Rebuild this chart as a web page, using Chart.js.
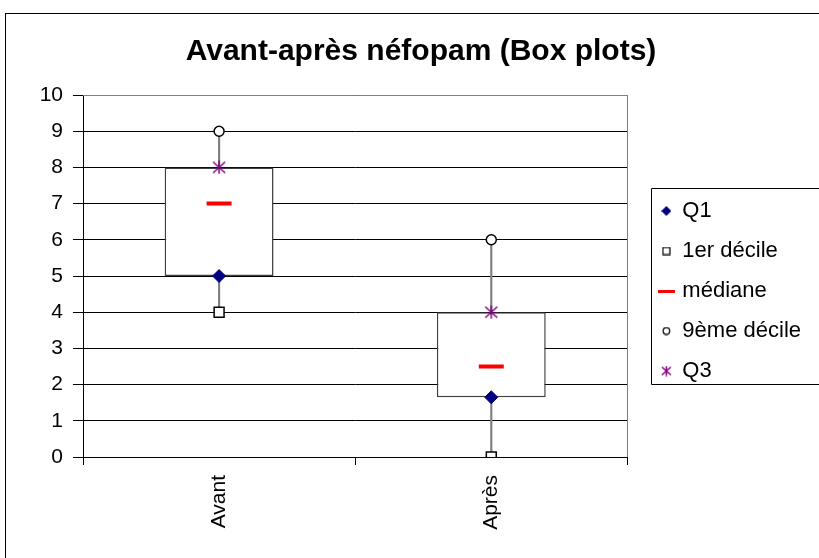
<!DOCTYPE html>
<html lang="fr">
<head>
<meta charset="UTF-8">
<title>Avant-après néfopam (Box plots)</title>
<script src="https://cdn.jsdelivr.net/npm/chart.js"></script>
<style>
  html, body { margin: 0; padding: 0; background: #fff; }
  #wrap { position: relative; width: 819px; height: 558px; }
</style>
</head>
<body>
<div id="wrap"><canvas id="myChart"></canvas></div>
<script>
// data
const categories = ['Avant', 'Après'];
const q1 = [5, 1.65];
const decile1 = [4, 0];
const mediane = [7, 2.5];
const decile9 = [9, 6];
const q3 = [8, 4];
const seriesNames = ['Q1', '1er décile', 'médiane', '9ème décile', 'Q3'];
const yMin = 0, yMax = 10, yStep = 1;

const PAD_L = 23;

Chart.defaults.font.family = "'Liberation Sans', Arial, sans-serif";
Chart.defaults.color = '#000';

function makeCanvas(w, h, draw) {
    const c = document.createElement('canvas');
    c.width = w; c.height = h;
    draw(c.getContext('2d'));
    return c;
}

function drawStar(g, s) {
    g.strokeStyle = '#800080';
    g.lineWidth = 1.5;
    g.beginPath();
    g.moveTo(s / 2, 0.5); g.lineTo(s / 2, s - 0.5);
    g.moveTo(1, 1.5); g.lineTo(s - 1, s - 1.5);
    g.moveTo(s - 1, 1.5); g.lineTo(1, s - 1.5);
    g.stroke();
}

const starImg = makeCanvas(14, 14, g => drawStar(g, 14));

// small markers for the legend
const legendImgs = [
    makeCanvas(10, 10, g => {
        g.fillStyle = '#000080';
        g.beginPath(); g.moveTo(5, 0); g.lineTo(10, 5); g.lineTo(5, 10); g.lineTo(0, 5); g.closePath(); g.fill();
    }),
    makeCanvas(9, 9, g => { g.strokeStyle = '#000'; g.lineWidth = 1.2; g.strokeRect(1, 1, 7, 7); }),
    makeCanvas(17, 3, g => { g.fillStyle = '#ff0000'; g.fillRect(0, 0, 17, 3); }),
    makeCanvas(9, 9, g => { g.strokeStyle = '#000'; g.lineWidth = 1.2; g.beginPath(); g.arc(4.5, 4.5, 3.3, 0, Math.PI * 2); g.stroke(); }),
    makeCanvas(11, 11, g => drawStar(g, 11))
];

function points(i, data, style) {
    return Object.assign({
        type: 'line',
        label: seriesNames[i],
        data: data,
        showLine: false,
        order: i
    }, style);
}

const frame = {
    id: 'frame',
    beforeDraw(chart) {
        const ctx = chart.ctx;
        ctx.save();
        ctx.fillStyle = '#fff';
        ctx.fillRect(0, 0, chart.width, chart.height);
        ctx.strokeStyle = '#000';
        ctx.lineWidth = 1;
        ctx.strokeRect(5.5, 13.5, chart.width + 20, chart.height + 20);
        ctx.restore();
    },
    beforeDatasetsDraw(chart) {
        const a = chart.chartArea, ctx = chart.ctx;
        ctx.save();
        ctx.strokeStyle = '#808080';
        ctx.lineWidth = 1;
        ctx.beginPath();
        ctx.moveTo(a.left, Math.round(a.top) + 0.5);
        ctx.lineTo(Math.round(a.right) + 0.5, Math.round(a.top) + 0.5);
        ctx.lineTo(Math.round(a.right) + 0.5, a.bottom);
        ctx.stroke();
        ctx.restore();
    },
    afterDraw(chart) {
        const lg = chart.legend;
        if (!lg || !lg.legendHitBoxes || !lg.legendHitBoxes.length) return;
        const hb = lg.legendHitBoxes;
        const first = hb[0], last = hb[hb.length - 1];
        const ctx = chart.ctx;
        ctx.save();
        ctx.strokeStyle = '#000';
        ctx.lineWidth = 1;
        const left = Math.round(first.left - 10) + 0.5;
        const top = Math.round(first.top + first.height / 2 - 23) + 0.5;
        const bottom = Math.round(last.top + last.height / 2 + 13) + 0.5;
        ctx.beginPath();
        ctx.moveTo(chart.width + 5, top);
        ctx.lineTo(left, top);
        ctx.lineTo(left, bottom);
        ctx.lineTo(chart.width + 5, bottom);
        ctx.stroke();
        ctx.restore();
    }
};

new Chart(document.getElementById('myChart'), {
    type: 'bar',
    data: {
        labels: categories,
        datasets: [
            points(0, q1, { pointStyle: 'rectRot', pointRadius: 6.5, pointHoverRadius: 6.5,
                backgroundColor: '#000080', borderColor: '#000080', pointBorderWidth: 1 }),
            points(1, decile1, { pointStyle: 'rect', pointRadius: 7, pointHoverRadius: 7,
                backgroundColor: '#fff', borderColor: '#000', pointBorderWidth: 1.5 }),
            points(2, mediane, { pointStyle: 'line', pointRadius: 12.5, pointHoverRadius: 12.5,
                backgroundColor: '#ff0000', borderColor: '#ff0000', pointBorderWidth: 4 }),
            points(3, decile9, { pointStyle: 'circle', pointRadius: 5, pointHoverRadius: 5,
                backgroundColor: '#fff', borderColor: '#000', pointBorderWidth: 1.5 }),
            points(4, q3, { pointStyle: starImg, backgroundColor: '#800080', borderColor: '#800080' }),
            {
                type: 'bar',
                label: 'box',
                data: categories.map((c, i) => [q1[i], q3[i]]),
                backgroundColor: '#fff',
                borderColor: '#404040',
                borderWidth: 1.5,
                borderSkipped: false,
                grouped: false,
                barPercentage: 0.4,
                categoryPercentage: 1,
                order: 5
            },
            {
                type: 'bar',
                label: 'whisker',
                data: categories.map((c, i) => [decile1[i], decile9[i]]),
                backgroundColor: '#808080',
                barThickness: 1.5,
                grouped: false,
                order: 6
            }
        ]
    },
    options: {
        responsive: true,
        maintainAspectRatio: false,
        animation: false,
        layout: { padding: { left: PAD_L, right: 0, top: 24, bottom: 0 } },
        plugins: {
            title: {
                display: true,
                text: 'Avant-après néfopam (Box plots)',
                color: '#000',
                font: { size: 30, weight: 'bold' },
                padding: { top: 10, bottom: 25 }
            },
            legend: {
                position: 'right',
                maxWidth: 190,
                labels: {
                    usePointStyle: true,
                    boxWidth: 10,
                    boxHeight: 10,
                    padding: 18,
                    color: '#000',
                    font: { size: 22 },
                    filter: item => item.datasetIndex < 5,
                    generateLabels: chart => Chart.defaults.plugins.legend.labels.generateLabels(chart)
                        .map(item => Object.assign(item, { pointStyle: legendImgs[item.datasetIndex] || item.pointStyle }))
                }
            },
            tooltip: { enabled: false }
        },
        scales: {
            x: {
                grid: { offset: true, drawOnChartArea: false, tickLength: 8, color: '#000' },
                border: { color: '#000' },
                ticks: { minRotation: 90, maxRotation: 90, padding: 10, color: '#000', font: { size: 21 } },
                afterFit: s => { s.height = 101; }
            },
            y: {
                min: yMin,
                max: yMax,
                ticks: { stepSize: yStep, padding: 10, color: '#000', font: { size: 21 } },
                grid: { color: '#000', tickLength: 10 },
                border: { color: '#000' },
                afterFit: s => { s.width = 83 - PAD_L; }
            },
            gap: {
                type: 'linear',
                position: 'right',
                grid: { display: false },
                ticks: { display: false },
                border: { display: false },
                afterFit: s => { s.width = 16; }
            },
            edge: {
                type: 'linear',
                position: 'right',
                weight: 2000,
                grid: { display: false },
                ticks: { display: false },
                border: { display: false },
                afterFit: s => { s.width = 8; }
            }
        }
    },
    plugins: [frame]
});
</script>
</body>
</html>
